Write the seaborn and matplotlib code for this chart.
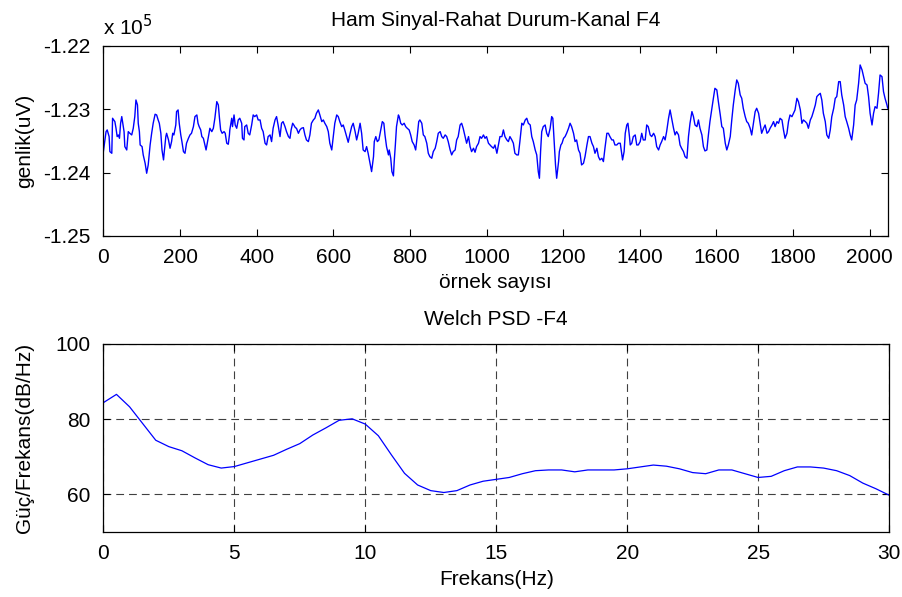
import numpy as np
import pandas as pd
import matplotlib
matplotlib.use("Agg")
import matplotlib.pyplot as plt
import seaborn as sns

# ---------------------------------------------------------------- data
# raw EEG trace, channel F4 (sample index, amplitude in uV)
sample_idx = [
    0, 7, 10, 15, 17, 22, 24, 30, 33, 36, 39, 42, 45, 48, 50, 54, 56, 61, 65, 69,
    74, 78, 82, 85, 89, 91, 94, 96, 101, 104, 109, 113, 117, 122, 126, 130, 135, 139, 143, 146,
    150, 153, 157, 159, 163, 165, 170, 174, 178, 181, 184, 189, 191, 195, 198, 202, 205, 209, 213, 217,
    222, 226, 230, 235, 239, 244, 247, 250, 254, 257, 261, 265, 268, 271, 275, 278, 283, 287, 291, 296,
    300, 303, 306, 310, 315, 318, 322, 326, 329,
    330, 335, 337, 341, 344, 348, 352, 356, 361, 363, 367, 369, 374, 378, 382, 387, 391, 395, 400, 404,
    409, 413, 417, 422, 426, 430, 435, 439, 443, 448, 452, 456, 461, 465, 469, 474, 478, 483, 487, 490,
    494, 497, 501, 504, 509, 513, 517, 522, 526, 530, 535, 539, 543, 548, 552, 556, 561, 565, 570, 574,
    578, 583, 587, 591, 596, 600, 604, 609, 613, 617, 622, 626, 630, 635, 639, 643, 648, 652, 657, 661,
    665,
    670, 674, 678, 683, 687, 691, 696, 700, 705, 707, 711, 715, 719, 724, 728, 732, 735, 739, 744, 746,
    750, 753, 757, 759, 762, 765, 770, 772, 776, 780, 785, 789, 793, 798, 802, 806, 811, 815, 819, 823,
    826, 831, 835, 839, 844, 848, 852, 857, 861, 866, 870, 874, 879, 883, 887, 892, 896, 900, 905, 909,
    913, 918, 922, 926, 931, 935, 939, 944, 948, 953, 957, 961, 966, 970, 974, 979, 983, 987, 992, 996,
    1000, 1005,
    1009, 1013, 1018, 1022, 1027, 1031, 1035, 1040, 1044, 1048, 1053, 1057, 1061, 1066, 1070, 1074, 1079, 1083, 1087, 1092,
    1096, 1101, 1105, 1109, 1114, 1118, 1122, 1127, 1131, 1135, 1138, 1141, 1144, 1148, 1153, 1157, 1161, 1166, 1170, 1173,
    1176, 1180, 1183, 1188, 1190, 1194, 1197, 1201, 1205, 1209, 1214, 1218, 1222, 1227, 1231, 1235, 1240, 1244, 1248, 1253,
    1257, 1262, 1266, 1270, 1275, 1279, 1283, 1288, 1292, 1296, 1301, 1305, 1309, 1314, 1318, 1322, 1327, 1331, 1335, 1340,
    1344,
    1349, 1353, 1355, 1359, 1362, 1366, 1369, 1373, 1375, 1379, 1383, 1388, 1392, 1396, 1401, 1405, 1409, 1414, 1418, 1422,
    1427, 1431, 1436, 1440, 1444, 1449, 1453, 1457, 1462, 1466, 1470, 1475, 1479, 1483, 1488, 1492, 1496, 1501, 1505, 1509,
    1514, 1518, 1523, 1527, 1531, 1536, 1540, 1544, 1549, 1553, 1557, 1562, 1566, 1570, 1575, 1579, 1583, 1588, 1592, 1596,
    1601, 1605, 1610, 1614, 1618, 1623, 1627, 1631, 1636, 1640, 1644, 1649, 1653, 1657, 1662, 1666, 1670, 1675, 1679, 1683,
    1688, 1692, 1697, 1701, 1705, 1710, 1714, 1718, 1723, 1727, 1732, 1736, 1740, 1745, 1749, 1753, 1758, 1762, 1766, 1771,
    1775, 1779, 1784, 1788, 1792, 1797, 1801, 1805, 1810, 1814, 1819, 1823, 1827, 1832, 1836, 1840, 1845, 1849, 1853, 1858,
    1862, 1866, 1871, 1875, 1879, 1884, 1888, 1893, 1897, 1901, 1906, 1910, 1914, 1919, 1923, 1927, 1932, 1936, 1940, 1945,
    1949, 1953, 1958, 1962, 1966, 1971, 1975, 1980, 1984, 1988, 1993, 1997, 2001, 2006, 2010, 2014, 2019, 2023, 2027, 2032,
    2036, 2040, 2045, 2047,
]

amplitude_uv = [
    -123670, -123355, -123328, -123433, -123670, -123696, -123144, -123197, -123302, -123433,
    -123407, -123460, -123223, -123118, -123197, -123355, -123591, -123644, -123355, -123381,
    -123407, -123302, -123118, -122856, -122934, -123223, -123355, -123565, -123591, -123722,
    -123854, -124011, -123880, -123565, -123381, -123223, -123081, -123092, -123171, -123223,
    -123381, -123644, -123801, -123670, -123433, -123381, -123486, -123617, -123512, -123381,
    -123407, -123250, -123039, -123013, -123223, -123407, -123512, -123670, -123696, -123538,
    -123460, -123407, -123381, -123276, -123118, -123092, -123223, -123276, -123328, -123433,
    -123460, -123565, -123644, -123538, -123407, -123302, -123355, -123302, -123144, -122882,
    -122934, -123144, -123328, -123381, -123355, -123381, -123538, -123554, -123407,
    -123328, -123144, -123276, -123092, -123250, -123302, -123171, -123144, -123223, -123460,
    -123486, -123276, -123250, -123381, -123407, -123250, -123092, -123118, -123092, -123171,
    -123171, -123302, -123355, -123538, -123565, -123433, -123407, -123512, -123302, -123171,
    -123118, -123250, -123433, -123223, -123197, -123276, -123355, -123433, -123460, -123328,
    -123223, -123250, -123292, -123302, -123381, -123328, -123302, -123292, -123407, -123486,
    -123512, -123407, -123223, -123171, -123144, -123066, -123013, -123092, -123197, -123171,
    -123223, -123276, -123355, -123538, -123644, -123433, -123223, -123092, -123118, -123197,
    -123276, -123250, -123328, -123433, -123523, -123407, -123276, -123223, -123355, -123486,
    -123381,
    -123223, -123381, -123644, -123670, -123591, -123696, -123854, -123985, -123749, -123512,
    -123433, -123512, -123486, -123328, -123197, -123223, -123407, -123591, -123722, -123644,
    -123775, -123985, -124053, -123827, -123565, -123276, -123092, -123118, -123223, -123250,
    -123223, -123276, -123302, -123328, -123407, -123512, -123565, -123644, -123433, -123197,
    -123171, -123223, -123407, -123433, -123538, -123696, -123749, -123775, -123670, -123617,
    -123512, -123381, -123355, -123433, -123460, -123407, -123433, -123512, -123644, -123722,
    -123670, -123644, -123486, -123433, -123250, -123223, -123302, -123433, -123538, -123433,
    -123591, -123670, -123617, -123680, -123591, -123538, -123433, -123460, -123407, -123460,
    -123433, -123538,
    -123565, -123591, -123617, -123565, -123696, -123565, -123433, -123433, -123328, -123433,
    -123486, -123512, -123433, -123486, -123538, -123696, -123722, -123722, -123512, -123223,
    -123250, -123171, -123144, -123223, -123250, -123433, -123512, -123644, -123722, -123985,
    -124090, -123670, -123355, -123276, -123250, -123381, -123433, -123302, -123118, -123144,
    -123460, -123880, -124090, -123827, -123670, -123565, -123538, -123460, -123433, -123381,
    -123302, -123223, -123276, -123381, -123512, -123486, -123644, -123696, -123880, -123854,
    -123749, -123565, -123433, -123433, -123538, -123591, -123696, -123617, -123749, -123801,
    -123775, -123827, -123617, -123381, -123381, -123433, -123486, -123486, -123565, -123565,
    -123538,
    -123538, -123722, -123801, -123670, -123381, -123250, -123223, -123433, -123565, -123538,
    -123433, -123407, -123565, -123565, -123512, -123381, -123486, -123486, -123250, -123276,
    -123407, -123433, -123381, -123433, -123591, -123644, -123565, -123512, -123433, -123486,
    -123355, -123144, -123013, -123144, -123302, -123407, -123355, -123407, -123565, -123617,
    -123670, -123749, -123775, -123433, -123223, -123039, -123118, -123250, -123276, -123171,
    -123302, -123407, -123591, -123659, -123644, -123407, -123197, -122987, -122829, -122672,
    -122698, -122882, -123092, -123276, -123302, -123538, -123644, -123565, -123433, -123171,
    -122934, -122698, -122540, -122593, -122777, -122829, -122987, -123118, -123197, -123223,
    -123302, -123408, -123197, -123040, -122987, -123066, -123224, -123381, -123302, -123250,
    -123381, -123355, -123302, -123250, -123197, -123276, -123197, -123224, -123145, -123171,
    -123329, -123460, -123381, -123197, -123092, -123119, -123066, -123014, -122830, -122882,
    -123014, -123224, -123171, -123197, -123224, -123302, -123171, -123119, -123040, -122935,
    -122803, -122777, -122751, -122856, -123066, -123197, -123408, -123460, -123329, -123119,
    -122987, -122830, -122803, -122567, -122567, -122777, -122935, -123119, -123197, -123302,
    -123408, -123486, -123250, -122935, -122856, -122593, -122304, -122383, -122488, -122593,
    -122620, -122803, -123066, -123250, -123066, -122961, -122987, -122751, -122462, -122488,
    -122725, -122830, -122935, -122987,
]

# Welch power spectral density of the same channel
psd_freq_hz = [0, 0.5, 1, 2, 2.5, 3, 3.5, 4, 4.5, 5, 5.5, 6, 6.5, 7, 7.5, 8, 8.5, 9, 9.5, 10,
               10.5, 11, 11.5, 12, 12.5, 13, 13.5, 14, 14.5, 15, 15.5, 16, 16.5, 17, 17.5, 18,
               18.5, 19, 19.5, 20, 20.5, 21, 21.5, 22, 22.5, 23, 23.5, 24, 24.5, 25, 25.5, 26,
               26.5, 27, 27.5, 28, 28.5, 29, 29.5, 30]
psd_db_hz = [84.4, 86.6, 83.3, 74.4, 72.7, 71.6, 69.7, 67.9, 67.0, 67.4, 68.4, 69.4, 70.4, 72.0,
             73.5, 75.8, 77.7, 79.7, 80.1, 78.7, 75.6, 70.5, 65.6, 62.5, 61.0, 60.5, 61.0, 62.5,
             63.5, 64.0, 64.5, 65.5, 66.3, 66.5, 66.5, 66.0, 66.5, 66.5, 66.5, 66.8, 67.3, 67.8,
             67.5, 66.8, 65.8, 65.5, 66.5, 66.5, 65.5, 64.5, 64.8, 66.3, 67.3, 67.3, 67.0, 66.3,
             65.0, 63.0, 61.5, 59.8]

top_xticks = list(range(0, 2001, 200))
top_yticks = [-125000, -124000, -123000, -122000]
psd_xticks = [0, 5, 10, 15, 20, 25, 30]
psd_yticks = [60, 80, 100]

# ---------------------------------------------------------------- style
sns.set_style("ticks")
plt.rcParams["font.family"] = ["Liberation Sans", "DejaVu Sans"]
plt.rcParams["font.size"] = 15
plt.rcParams["axes.linewidth"] = 0.9
plt.rcParams["text.color"] = "black"
plt.rcParams["axes.labelcolor"] = "black"
plt.rcParams["axes.titlecolor"] = "black"

raw = pd.DataFrame({"sample": sample_idx, "uv": amplitude_uv})
psd = pd.DataFrame({"freq": psd_freq_hz, "db": psd_db_hz})

fig = plt.figure(figsize=(9.02, 5.97), dpi=100)
ax1 = fig.add_axes([0.1146, 0.6047, 0.8700, 0.3188])
ax2 = fig.add_axes([0.1146, 0.1089, 0.8710, 0.3149])


def matlab_box(ax):
    for s in ax.spines.values():
        s.set_visible(True)
        s.set_color("black")
    ax.tick_params(direction="in", top=True, right=True, length=5, width=0.8,
                   labelsize=15, colors="black", pad=9)
    ax.yaxis.set_label_coords(-0.088, 0.5)


# raw signal
sns.lineplot(data=raw, x="sample", y="uv", ax=ax1, color="#0000ff", lw=1.0,
             estimator=None, sort=False)
ax1.set_xlim(0, 2048)
ax1.set_ylim(-125000, -122000)
ax1.set_xticks(top_xticks)
ax1.set_yticks(top_yticks)
ax1.set_yticklabels([f"{v / 1e5:.2f}" for v in top_yticks])
ax1.set_title("Ham Sinyal-Rahat Durum-Kanal F4", fontsize=15, pad=14)
ax1.set_xlabel("örnek sayısı", fontsize=15, labelpad=4)
ax1.set_ylabel("genlik(uV)", fontsize=15)
ax1.text(0.0, 1.035, r"x 10$^5$", transform=ax1.transAxes, fontsize=15,
         ha="left", va="bottom")
matlab_box(ax1)

# Welch PSD
sns.lineplot(data=psd, x="freq", y="db", ax=ax2, color="#0000ff", lw=0.9,
             estimator=None, sort=False)
ax2.set_xlim(0, 30)
ax2.set_ylim(50, 100)
ax2.set_xticks(psd_xticks)
ax2.set_yticks(psd_yticks)
ax2.grid(True, color="#404040", linestyle=(0, (7, 4.5)), linewidth=0.8)
ax2.set_title("Welch PSD -F4", fontsize=15, pad=14)
ax2.set_xlabel("Frekans(Hz)", fontsize=15, labelpad=5)
ax2.set_ylabel("Güç/Frekans(dB/Hz)", fontsize=15)
matlab_box(ax2)

fig.savefig("out.png", dpi=100)
